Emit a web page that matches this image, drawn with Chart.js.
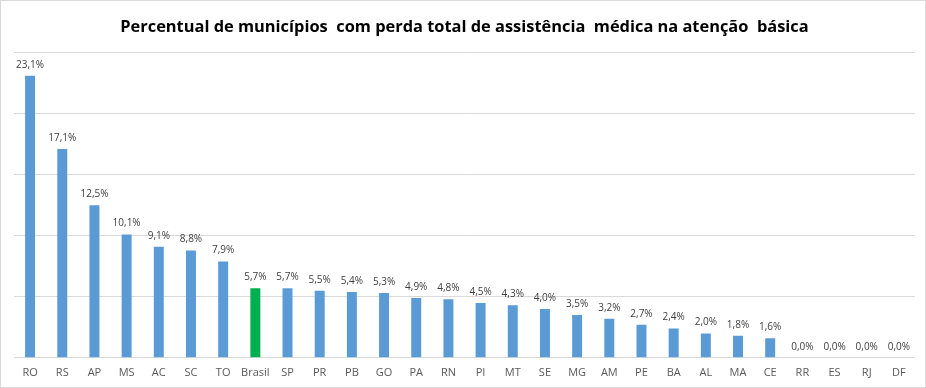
<!DOCTYPE html>
<html>
<head>
<meta charset="utf-8">
<script src="https://cdn.jsdelivr.net/npm/chart.js@4.4.1/dist/chart.umd.min.js"></script>
<style>
  html, body { margin: 0; padding: 0; background: #fff; }
  #wrap { width: 924px; height: 386px; border: 1px solid #d9d9d9; position: relative; }
  canvas { display: block; }
</style>
</head>
<body>
<div id="wrap"><canvas id="chart" width="924" height="386"></canvas></div>
<script>
const estados = ["RO", "RS", "AP", "MS", "AC", "SC", "TO", "Brasil", "SP", "PR", "PB", "GO", "PA", "RN",
  "PI", "MT", "SE", "MG", "AM", "PE", "BA", "AL", "MA", "CE", "RR", "ES", "RJ", "DF"];
const percentuais = [23.1, 17.1, 12.5, 10.1, 9.1, 8.8, 7.9, 5.7, 5.7, 5.5, 5.4, 5.3, 4.9, 4.8,
  4.5, 4.3, 4.0, 3.5, 3.2, 2.7, 2.4, 2.0, 1.8, 1.6, 0.0, 0.0, 0.0, 0.0];
const destaque = "Brasil";

const corBarra = "#5b9bd5";
const corDestaque = "#00b050";

// escreve o valor em cima de cada barra
const rotulos = {
  id: "rotulos",
  afterDatasetsDraw(chart) {
    const ctx = chart.ctx;
    const meta = chart.getDatasetMeta(0);
    ctx.save();
    ctx.font = "10px 'Open Sans', sans-serif";
    ctx.fillStyle = "#404040";
    ctx.textAlign = "center";
    ctx.textBaseline = "bottom";
    meta.data.forEach((bar, i) => {
      const txt = percentuais[i].toFixed(1).replace(".", ",") + "%";
      ctx.fillText(txt, bar.x, bar.y - 6);
    });
    ctx.restore();
  }
};

const ctx = document.getElementById("chart").getContext("2d");
new Chart(ctx, {
  type: "bar",
  data: {
    labels: estados,
    datasets: [{
      data: percentuais,
      backgroundColor: estados.map(e => e === destaque ? corDestaque : corBarra),
      barPercentage: 0.62,
      categoryPercentage: 0.5
    }]
  },
  options: {
    responsive: false,
    animation: false,
    layout: { padding: { left: 13, right: 10, bottom: 0 } },
    plugins: {
      legend: { display: false },
      tooltip: { enabled: false },
      title: {
        display: true,
        text: "Percentual de municípios  com perda total de assistência  médica na atenção  básica",
        color: "#000",
        font: { family: "'Open Sans', sans-serif", size: 16.4, weight: "bold" },
        padding: { top: 16, bottom: 16 }
      }
    },
    scales: {
      x: {
        grid: { display: false, drawTicks: false },
        border: { display: false },
        ticks: { color: "#595959", font: { family: "'Open Sans', sans-serif", size: 11 }, padding: 8, maxRotation: 0, autoSkip: false }
      },
      y: {
        min: 0,
        max: 25,
        ticks: { display: false, stepSize: 5 },
        grid: { color: "#d9d9d9", drawTicks: false },
        border: { display: false }
      }
    }
  },
  plugins: [rotulos]
});
</script>
</body>
</html>
